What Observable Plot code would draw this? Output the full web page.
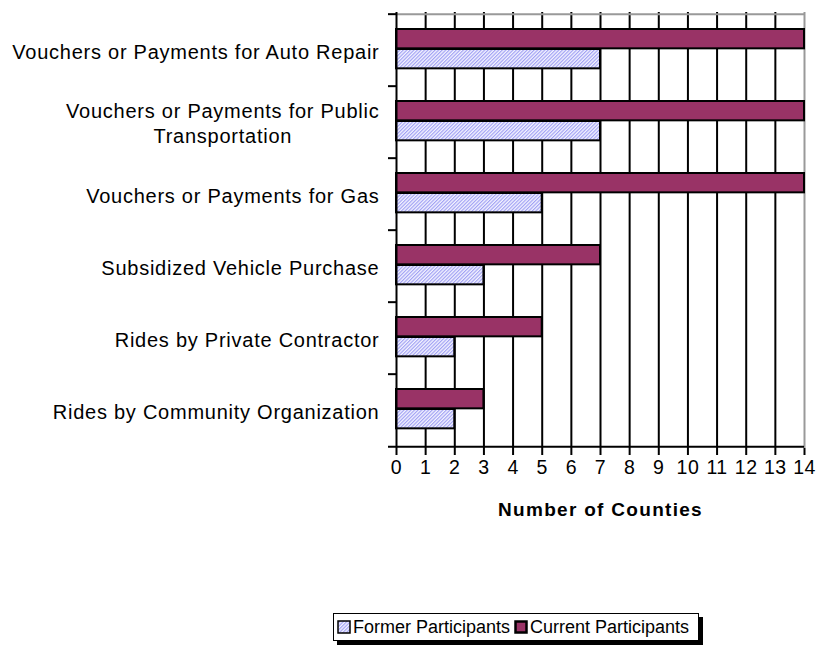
<!DOCTYPE html>
<html>
<head>
<meta charset="utf-8">
<script src="https://cdn.jsdelivr.net/npm/d3@7"></script>
<script src="https://cdn.jsdelivr.net/npm/@observablehq/plot@0.6"></script>
<style>
  html, body { margin: 0; padding: 0; background: white; }
  body { position: relative; width: 817px; height: 647px; overflow: hidden; font-family: "Liberation Sans", Arial, sans-serif; }
  #legend { position: absolute; left: 333px; top: 613px; height: 28px; border: 1.5px solid black; box-shadow: 4px 4px 0 black; background: white; display: flex; align-items: center; font-size: 18px; color: black; box-sizing: border-box; padding: 0 9px 0 3px; white-space: nowrap; }
  #legend .item { display: flex; align-items: center; margin-right: 4px; flex-shrink: 0; }
  #legend .item:last-child { margin-right: 0; }
  #legend svg { margin-right: 2px; flex-shrink: 0; }
  #chart svg g[aria-label="y-axis tick label"] text { letter-spacing: 0.75px; }
  #chart svg g[aria-label="x-axis tick label"] text { letter-spacing: 0.5px; }
  #chart svg g[aria-label="text"] text { letter-spacing: 1.3px; }
</style>
</head>
<body>
<div id="chart"></div>
<div id="legend"></div>
<script>
const categories = [
  "Vouchers or Payments for Auto Repair",
  "Vouchers or Payments for Public\nTransportation",
  "Vouchers or Payments for Gas",
  "Subsidized Vehicle Purchase",
  "Rides by Private Contractor",
  "Rides by Community Organization"
];
const current = [14, 14, 14, 7, 5, 3];
const former = [7, 7, 5, 3, 2, 2];
const xTicks = [0, 1, 2, 3, 4, 5, 6, 7, 8, 9, 10, 11, 12, 13, 14];
const seriesNames = ["Former Participants", "Current Participants"];
const xLabel = "Number of Counties";

const rows = categories.map((c, i) => ({category: c, current: current[i], former: former[i]}));

const W = 817, H = 590, mL = 396, mR = 13, mT = 12, mB = 142;
const bw = (H - mT - mB) / categories.length;
const frameW = W - mL - mR;

const hatchDef = id => `<pattern id="${id}" patternUnits="userSpaceOnUse" width="2.5" height="2.5" patternTransform="rotate(45)">
     <rect width="2.5" height="2.5" fill="#f4f4ff"/>
     <line x1="0.6" y1="0" x2="0.6" y2="2.5" stroke="#9c9cf4" stroke-width="1.1"/>
   </pattern>`;

const svg = Plot.plot({
  width: W, height: H,
  marginLeft: mL, marginRight: mR, marginTop: mT, marginBottom: mB,
  style: {fontFamily: "'Liberation Sans', Arial, sans-serif", fontSize: "20px", color: "black", background: "white"},
  x: {domain: [0, 14]},
  y: {type: "band", domain: categories, padding: 0},
  marks: [
    Plot.ruleX(xTicks.slice(1, -1), {x: d => d, stroke: "black", strokeWidth: 2}),
    Plot.ruleX([14], {x: d => d, stroke: "#999999", strokeWidth: 2}),
    Plot.tickY([categories[0]], {y: d => d, dy: -bw / 2, stroke: "#999999", strokeWidth: 2}),
    Plot.barX(rows, {y: "category", x: "current", fill: "#993366", stroke: "black", strokeWidth: 2, insetTop: 15, insetBottom: bw - 35}),
    Plot.barX(rows, {y: "category", x: "former", fill: "url(#hatch)", stroke: "black", strokeWidth: 2, insetTop: 35, insetBottom: bw - 55}),
    Plot.ruleX([0], {x: d => d, stroke: "black", strokeWidth: 2}),
    Plot.tickY(categories, {y: d => d, dy: -bw / 2, insetLeft: -8, insetRight: frameW, stroke: "black", strokeWidth: 2}),
    Plot.tickY([categories[categories.length - 1]], {y: d => d, dy: bw / 2, insetLeft: -8, stroke: "black", strokeWidth: 2}),
    Plot.axisX({ticks: xTicks, tickSize: 7, strokeWidth: 2, tickPadding: 5, fontSize: 19.5, label: null, tickFormat: d => String(d)}),
    Plot.axisY({tickSize: 0, tickPadding: 17, fontSize: 20, label: null, lineHeight: 1.25}),
    Plot.text([xLabel], {text: d => d, frameAnchor: "bottom", dy: 67, fontWeight: "bold", fontSize: 19})
  ]
});

d3.select(svg).insert("defs", ":first-child").html(hatchDef("hatch"));
document.getElementById("chart").appendChild(svg);

// center the second line of wrapped y labels under the first
svg.querySelectorAll("text").forEach(t => {
  const ts = t.querySelectorAll("tspan");
  if (ts.length === 2) {
    const w1 = ts[0].getComputedTextLength();
    const x0 = parseFloat(ts[0].getAttribute("x") || "0");
    ts[1].setAttribute("x", x0 - w1 / 2);
    ts[1].setAttribute("text-anchor", "middle");
  }
});

// legend
const fills = {"Former Participants": "hatch", "Current Participants": "#993366"};
const legend = d3.select("#legend");
seriesNames.forEach((name, i) => {
  const item = legend.append("div").attr("class", "item");
  const s = item.append("svg").attr("width", 14).attr("height", 14);
  if (fills[name] === "hatch") {
    s.append("defs").html(hatchDef("hatchL"));
    s.append("rect").attr("x", 1).attr("y", 1).attr("width", 12).attr("height", 12).attr("fill", "url(#hatchL)").attr("stroke", "black").attr("stroke-width", 1.5);
  } else {
    s.append("rect").attr("x", 1.5).attr("y", 1.5).attr("width", 11).attr("height", 11).attr("fill", fills[name]).attr("stroke", "black").attr("stroke-width", 2.5);
  }
  item.append("span").text(name);
});
</script>
</body>
</html>
